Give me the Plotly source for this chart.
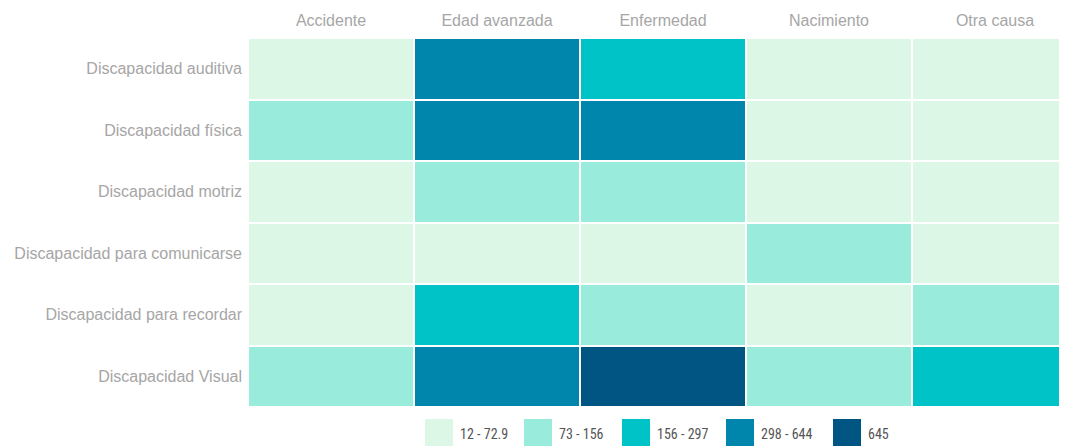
import numpy as np
import plotly.graph_objects as go

causas = ["Accidente", "Edad avanzada", "Enfermedad", "Nacimiento", "Otra causa"]
tipos = [
    "Discapacidad auditiva",
    "Discapacidad física",
    "Discapacidad motriz",
    "Discapacidad para comunicarse",
    "Discapacidad para recordar",
    "Discapacidad Visual",
]
# personas por tipo de discapacidad (filas) y causa (columnas), estimado
valores = [
    [40, 420, 230, 50, 25],
    [110, 380, 330, 60, 30],
    [45, 120, 100, 20, 12],
    [15, 55, 50, 90, 18],
    [30, 200, 130, 40, 80],
    [140, 500, 645, 95, 260],
]
bin_labels = ["12 - 72.9", "73 - 156", "156 - 297", "298 - 644", "645"]
bin_edges = [73, 156.5, 297.5, 644.5]
bin_colors = ["#dcf7e6", "#99ebdc", "#00c3c8", "#0086ad", "#005582"]

z = np.digitize(np.array(valores, dtype=float), bin_edges)

n = len(bin_colors)
colorscale = []
for i, c in enumerate(bin_colors):
    colorscale.append([i / n, c])
    colorscale.append([(i + 1) / n, c])

fig = go.Figure(go.Heatmap(
    z=z, x=causas, y=tipos,
    customdata=valores,
    hovertemplate="%{y}<br>%{x}: %{customdata}<extra></extra>",
    colorscale=colorscale, zmin=-0.5, zmax=n - 0.5,
    showscale=False, xgap=2, ygap=2,
))

# la pagina tiene 8px de margen en el body
off = 8
W, H = 1067 - off, 446 - off
ml, mt = 248 - off, 38 - off
mb = H - (407 - off)
pw, ph = W - ml, H - mt - mb

def px_x(p):
    return (p - off - ml) / pw

def px_y(p):
    return (H - mb - (p - off)) / ph

# leyenda manual con cuadros
sq_left = [425, 524, 622, 726, 833]
for lab, col, x0 in zip(bin_labels, bin_colors, sq_left):
    fig.add_shape(type="rect", xref="paper", yref="paper",
                  x0=px_x(x0), x1=px_x(x0 + 28), y0=px_y(448), y1=px_y(419),
                  fillcolor=col, line_width=0)
    fig.add_annotation(x=px_x(x0 + 33), y=px_y(434), xref="paper", yref="paper",
                       text=lab, showarrow=False, xanchor="left", yanchor="middle",
                       font=dict(family="Liberation Sans Narrow, Roboto Condensed, Roboto", size=14, color="#555"))

fig.update_xaxes(side="top", range=[-0.5, -0.5 + pw / 166], showgrid=False, zeroline=False,
                 ticks="", automargin=False, ticklabelstandoff=8,
                 tickfont=dict(family="Liberation Sans, Arial", size=16, color="#a6a6a6"))
fig.update_yaxes(autorange="reversed", showgrid=False, zeroline=False,
                 ticks="", automargin=False, ticklabelstandoff=5,
                 tickfont=dict(family="Liberation Sans, Arial", size=16, color="#a6a6a6"))
fig.update_layout(
    width=W, height=H,
    margin=dict(l=ml, r=0, t=mt, b=mb),
    plot_bgcolor="white", paper_bgcolor="white",
)
fig.write_html("out.html")
